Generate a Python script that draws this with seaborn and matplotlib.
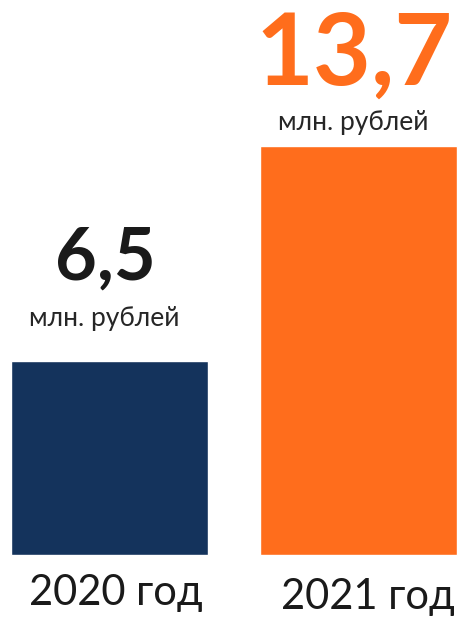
import matplotlib
matplotlib.use("Agg")
import matplotlib.pyplot as plt
import seaborn as sns
import pandas as pd

# data
years = ["2020 год", "2021 год"]
values = [6.5, 13.7]
value_labels = ["6,5", "13,7"]
unit_label = "млн. рублей"
bar_colors = ["#14335C", "#FF6D1C"]
value_colors = ["#1A1A1A", "#FF6D1C"]

df = pd.DataFrame({"year": years, "value": values})

sns.set_style("white")
plt.rcParams["font.family"] = ["Lato", "DejaVu Sans"]

fig = plt.figure(figsize=(4.64, 6.19), dpi=100)
ax = fig.add_axes([0, 0, 1, 1])

sns.barplot(data=df, x="year", y="value", hue="year", palette=bar_colors,
            width=0.79, saturation=1, legend=False, ax=ax)

# map data space to the picture
ax.set_xlim(-0.44, 1.424)
ax.set_ylim(-2.144, 18.59)
ax.axis("off")

# offsets in pixels above the bar top: (number, unit)
label_offsets = [(81, 35), (61, 16)]
year_offsets = [-50, -54]
year_shift = [6, 9]
number_sizes = [52, 72]

for i, v in enumerate(values):
    off_num, off_unit = label_offsets[i]
    ax.annotate(value_labels[i], (i, v), xytext=(-4, off_num),
                textcoords="offset pixels", ha="center", va="baseline",
                fontsize=number_sizes[i], fontweight="bold", color=value_colors[i])
    ax.annotate(unit_label, (i, v), xytext=(-5, off_unit),
                textcoords="offset pixels", ha="center", va="baseline",
                fontsize=19, color="#262626")
    ax.annotate(years[i], (i, 0), xytext=(year_shift[i], year_offsets[i]),
                textcoords="offset pixels", ha="center", va="baseline",
                fontsize=30, color="#1A1A1A")

fig.savefig("out.png", dpi=100)
